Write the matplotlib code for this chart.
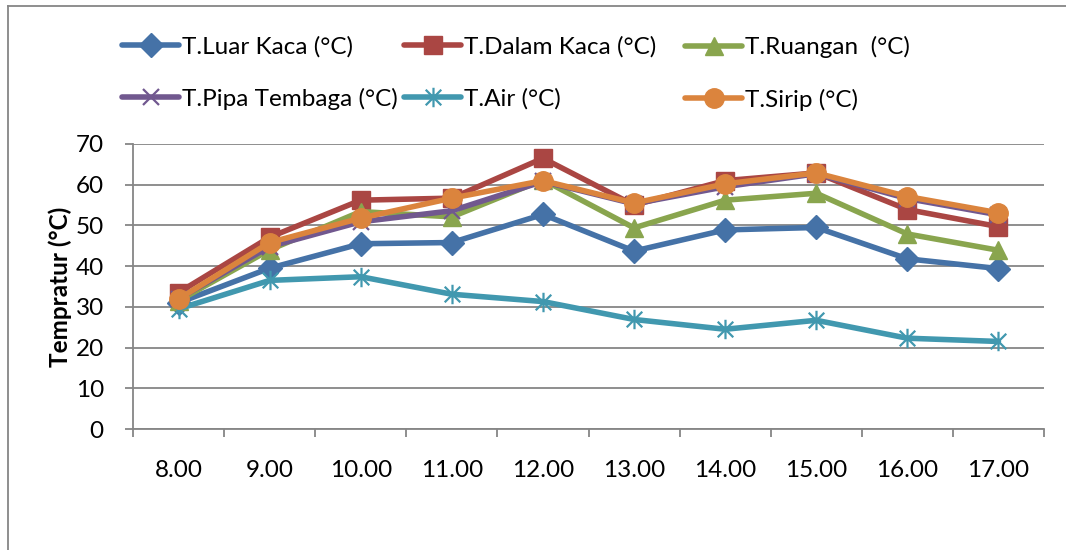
import matplotlib
matplotlib.use("Agg")
import matplotlib.pyplot as plt
from matplotlib.lines import Line2D
from matplotlib.path import Path
import numpy as np

plt.rcParams['font.family'] = ['Lato', 'DejaVu Sans']

hours = ["8.00", "9.00", "10.00", "11.00", "12.00", "13.00", "14.00", "15.00", "16.00", "17.00"]

t_luar_kaca = [31.0, 39.5, 45.5, 45.8, 52.7, 43.7, 48.9, 49.5, 41.8, 39.4]
t_dalam_kaca = [33.5, 47.1, 56.2, 56.7, 66.5, 55.0, 61.0, 62.9, 53.9, 49.7]
t_ruangan = [31.5, 44.0, 53.4, 52.1, 61.2, 49.4, 56.2, 57.9, 47.9, 43.9]
t_pipa_tembaga = [32.0, 44.8, 50.9, 53.6, 60.8, 55.3, 59.5, 62.7, 56.6, 52.6]
t_air = [29.5, 36.5, 37.4, 33.1, 31.3, 26.9, 24.5, 26.7, 22.3, 21.5]
t_sirip = [31.9, 45.8, 51.8, 56.7, 61.0, 55.5, 60.2, 62.9, 57.1, 53.1]

# star marker: vertical stroke plus an X
star = Path([(0, -1), (0, 1), (-0.8, -0.8), (0.8, 0.8), (-0.8, 0.8), (0.8, -0.8)],
            [Path.MOVETO, Path.LINETO, Path.MOVETO, Path.LINETO, Path.MOVETO, Path.LINETO])

series = [
    ("T.Luar Kaca (°C)", t_luar_kaca, "#4572A7", "D", 12),
    ("T.Dalam Kaca (°C)", t_dalam_kaca, "#AA4643", "s", 13.5),
    ("T.Ruangan  (°C)", t_ruangan, "#89A54E", "^", 13.5),
    ("T.Pipa Tembaga (°C)", t_pipa_tembaga, "#71588F", "x", 12),
    ("T.Air (°C)", t_air, "#4198AF", star, 14),
    ("T.Sirip (°C)", t_sirip, "#DB843D", "o", 14),
]

W, H = 1066, 550
FS = 17.5
fig = plt.figure(figsize=(W / 100, H / 100), dpi=100)
AX_L, AX_R, AX_T, AX_B = 133, 1044, 144, 429
ax = fig.add_axes([AX_L / W, 1 - AX_B / H, (AX_R - AX_L) / W, (AX_B - AX_T) / H])

x = np.arange(len(hours))
handles = []
for label, vals, color, marker, ms in series:
    thin = isinstance(marker, Path) or marker == "x"
    mew = 1.6 if thin else 1.0
    (ln,) = ax.plot(x, vals, color=color, lw=4.0, marker=marker, markersize=ms,
                    markerfacecolor=color, markeredgecolor=color, markeredgewidth=mew,
                    solid_capstyle="round", solid_joinstyle="round", label=label,
                    zorder=3)
    handles.append(ln)

grid_c = "#868686"
ax.set_xlim(-0.5, len(hours) - 0.5)
ax.set_ylim(0, 70)
ax.set_yticks(np.arange(0, 71, 10))
ax.yaxis.grid(True, color=grid_c, lw=1.3, zorder=0)
ax.set_axisbelow(True)

ax.set_xticks(x)
ax.set_xticklabels(hours)
ax.set_xticks(np.arange(-0.5, len(hours)), minor=True)
ax.tick_params(axis="x", which="major", length=0, pad=22, labelsize=FS, colors="black")
ax.tick_params(axis="x", which="minor", length=6, width=1.3, color=grid_c, direction="out")
ax.tick_params(axis="y", which="major", length=6, width=1.3, color=grid_c, pad=15,
               labelsize=FS, labelcolor="black")

for side in ("top", "right"):
    ax.spines[side].set_visible(False)
for side in ("left", "bottom"):
    ax.spines[side].set_color(grid_c)
    ax.spines[side].set_linewidth(1.3)

ax.set_ylabel("Tempratur (°C)", fontsize=FS, fontweight="bold")
ax.yaxis.set_label_coords((72 - AX_L) / (AX_R - AX_L), 0.5)

# legend: three columns of two entries each
cols = [(handles[0], handles[3]), (handles[1], handles[4]), (handles[2], handles[5])]
col_x = [122, 404, 685]
for (h1, h2), cx in zip(cols, col_x):
    leg = fig.legend([h1, h2], [h1.get_label(), h2.get_label()],
                     loc="upper left", bbox_to_anchor=(cx / W, 1 - 36 / H),
                     frameon=False, fontsize=FS, handlelength=2.35,
                     handletextpad=0.1, labelspacing=1.25, borderpad=0,
                     borderaxespad=0, markerscale=1.0)
    for t in leg.get_texts():
        t.set_color("black")

# chart frame
fig.add_artist(Line2D([8 / W, 8 / W], [0, 1 - 6 / H], color=grid_c, lw=1.3))
fig.add_artist(Line2D([8 / W, 1], [1 - 6 / H, 1 - 6 / H], color=grid_c, lw=1.3))

fig.savefig("out.png", dpi=100)
